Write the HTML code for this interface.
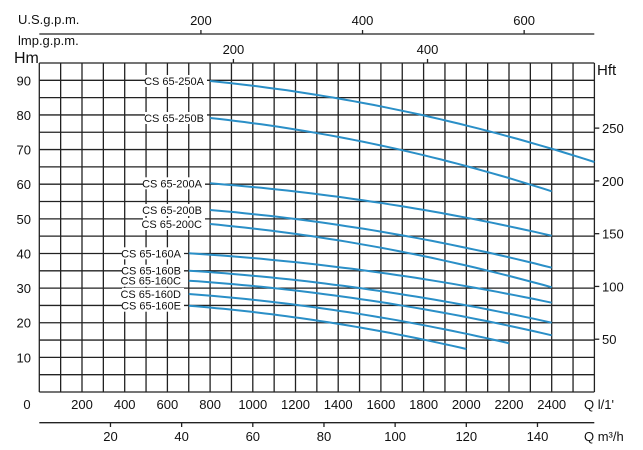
<!DOCTYPE html>
<html><head><meta charset="utf-8"><style>
html,body{margin:0;padding:0;background:#fff;}
svg{display:block;font-family:"Liberation Sans Narrow","Liberation Sans",sans-serif;}
</style></head><body>
<svg id="s" width="643" height="450" viewBox="0 0 643 450" xmlns="http://www.w3.org/2000/svg">
<g id="grid" stroke="#222" stroke-width="1.3"></g>
<g id="curves" fill="none" stroke="#2a8fc7" stroke-width="2"></g>
<g id="txt" fill="#111" font-size="13"></g>
</svg>
<script>
var NS="http://www.w3.org/2000/svg";
function el(p,t,a,txt){var e=document.createElementNS(NS,t);for(var k in a)e.setAttribute(k,a[k]);if(txt!==undefined)e.textContent=txt;document.getElementById(p).appendChild(e);return e;}
var L=39.3,R=594.3,T=63,B=392,cw=21.35,rh=(B-T)/19;
function X(q){return L+q/100*cw;}
for(var i=0;i<=26;i++){var x=L+i*cw;el("grid","line",{x1:x,y1:T,x2:x,y2:B});}
for(var j=0;j<=19;j++){var y=T+j*rh;el("grid","line",{x1:L,y1:y,x2:R,y2:y});}
// top axes
el("grid","line",{x1:L,y1:34,x2:R,y2:34});
[200,400,600].forEach(function(v){var x=X(v*3.785);el("grid","line",{x1:x,y1:34,x2:x,y2:30});el("txt","text",{x:x,y:25,"text-anchor":"middle"},v);});
[200,400].forEach(function(v){var x=X(v*4.546);el("grid","line",{x1:x,y1:63,x2:x,y2:59});el("txt","text",{x:x,y:54,"text-anchor":"middle"},v);});
el("txt","text",{x:18,y:24},"U.S.g.p.m.");
el("txt","text",{x:18,y:45},"lmp.g.p.m.");
el("txt","text",{x:14,y:63,"font-size":"16"},"Hm");
el("txt","text",{x:597,y:75,"font-size":"15"},"Hft");
// y labels
for(var h=10;h<=90;h+=10){el("txt","text",{x:31,y:B-h*3.463+5,"text-anchor":"end"},h);}
[50,100,150,200,250].forEach(function(f){var y=B-f*0.3048*3.463;el("grid","line",{x1:R,y1:y,x2:R+5,y2:y});el("txt","text",{x:602,y:y+5},f);});
// bottom
el("txt","text",{x:27,y:409,"text-anchor":"middle"},"0");
for(var q=200;q<=2400;q+=200){el("txt","text",{x:X(q),y:409,"text-anchor":"middle"},q);}
el("txt","text",{x:584,y:409},"Q  l/1'");
el("grid","line",{x1:L,y1:422.7,x2:R,y2:422.7});
for(var m=20;m<=140;m+=20){var x=X(m*1000/60);el("grid","line",{x1:x,y1:422.7,x2:x,y2:427});el("txt","text",{x:x,y:441,"text-anchor":"middle"},m);}
el("txt","text",{x:584,y:441},"Q  m³/h");
// curves
var C=[["CS 65-250A",800,81,2600,162,204],["CS 65-250B",800,118,2400,191.3,204],
["CS 65-200A",800,183.3,2400,235.7,202],["CS 65-200B",800,210,2400,267.7,202],["CS 65-200C",800,224,2400,287.3,202],
["CS 65-160A",700,253.3,2400,302.7,181],["CS 65-160B",700,270.7,2400,322.7,181],["CS 65-160C",700,280.7,2400,335.3,181],
["CS 65-160D",700,294,2200,343.3,181],["CS 65-160E",700,305.7,2000,349,181]];
C.forEach(function(c){var pts=[];for(var k=0;k<=40;k++){var q=c[1]+(c[3]-c[1])*k/40;var y=c[2]+(c[4]-c[2])*(q*q-c[1]*c[1])/(c[3]*c[3]-c[1]*c[1]);pts.push(X(q).toFixed(1)+","+y.toFixed(1));}
el("curves","polyline",{points:pts.join(" ")});
var w=c[0].length*5.6;el("txt","rect",{x:c[5]-w-3,y:c[2]-6,width:w+6,height:12,fill:"#fff"});
el("txt","text",{x:c[5],y:c[2]+4,"text-anchor":"end","font-size":"11"},c[0]);});
</script>
</body></html>
